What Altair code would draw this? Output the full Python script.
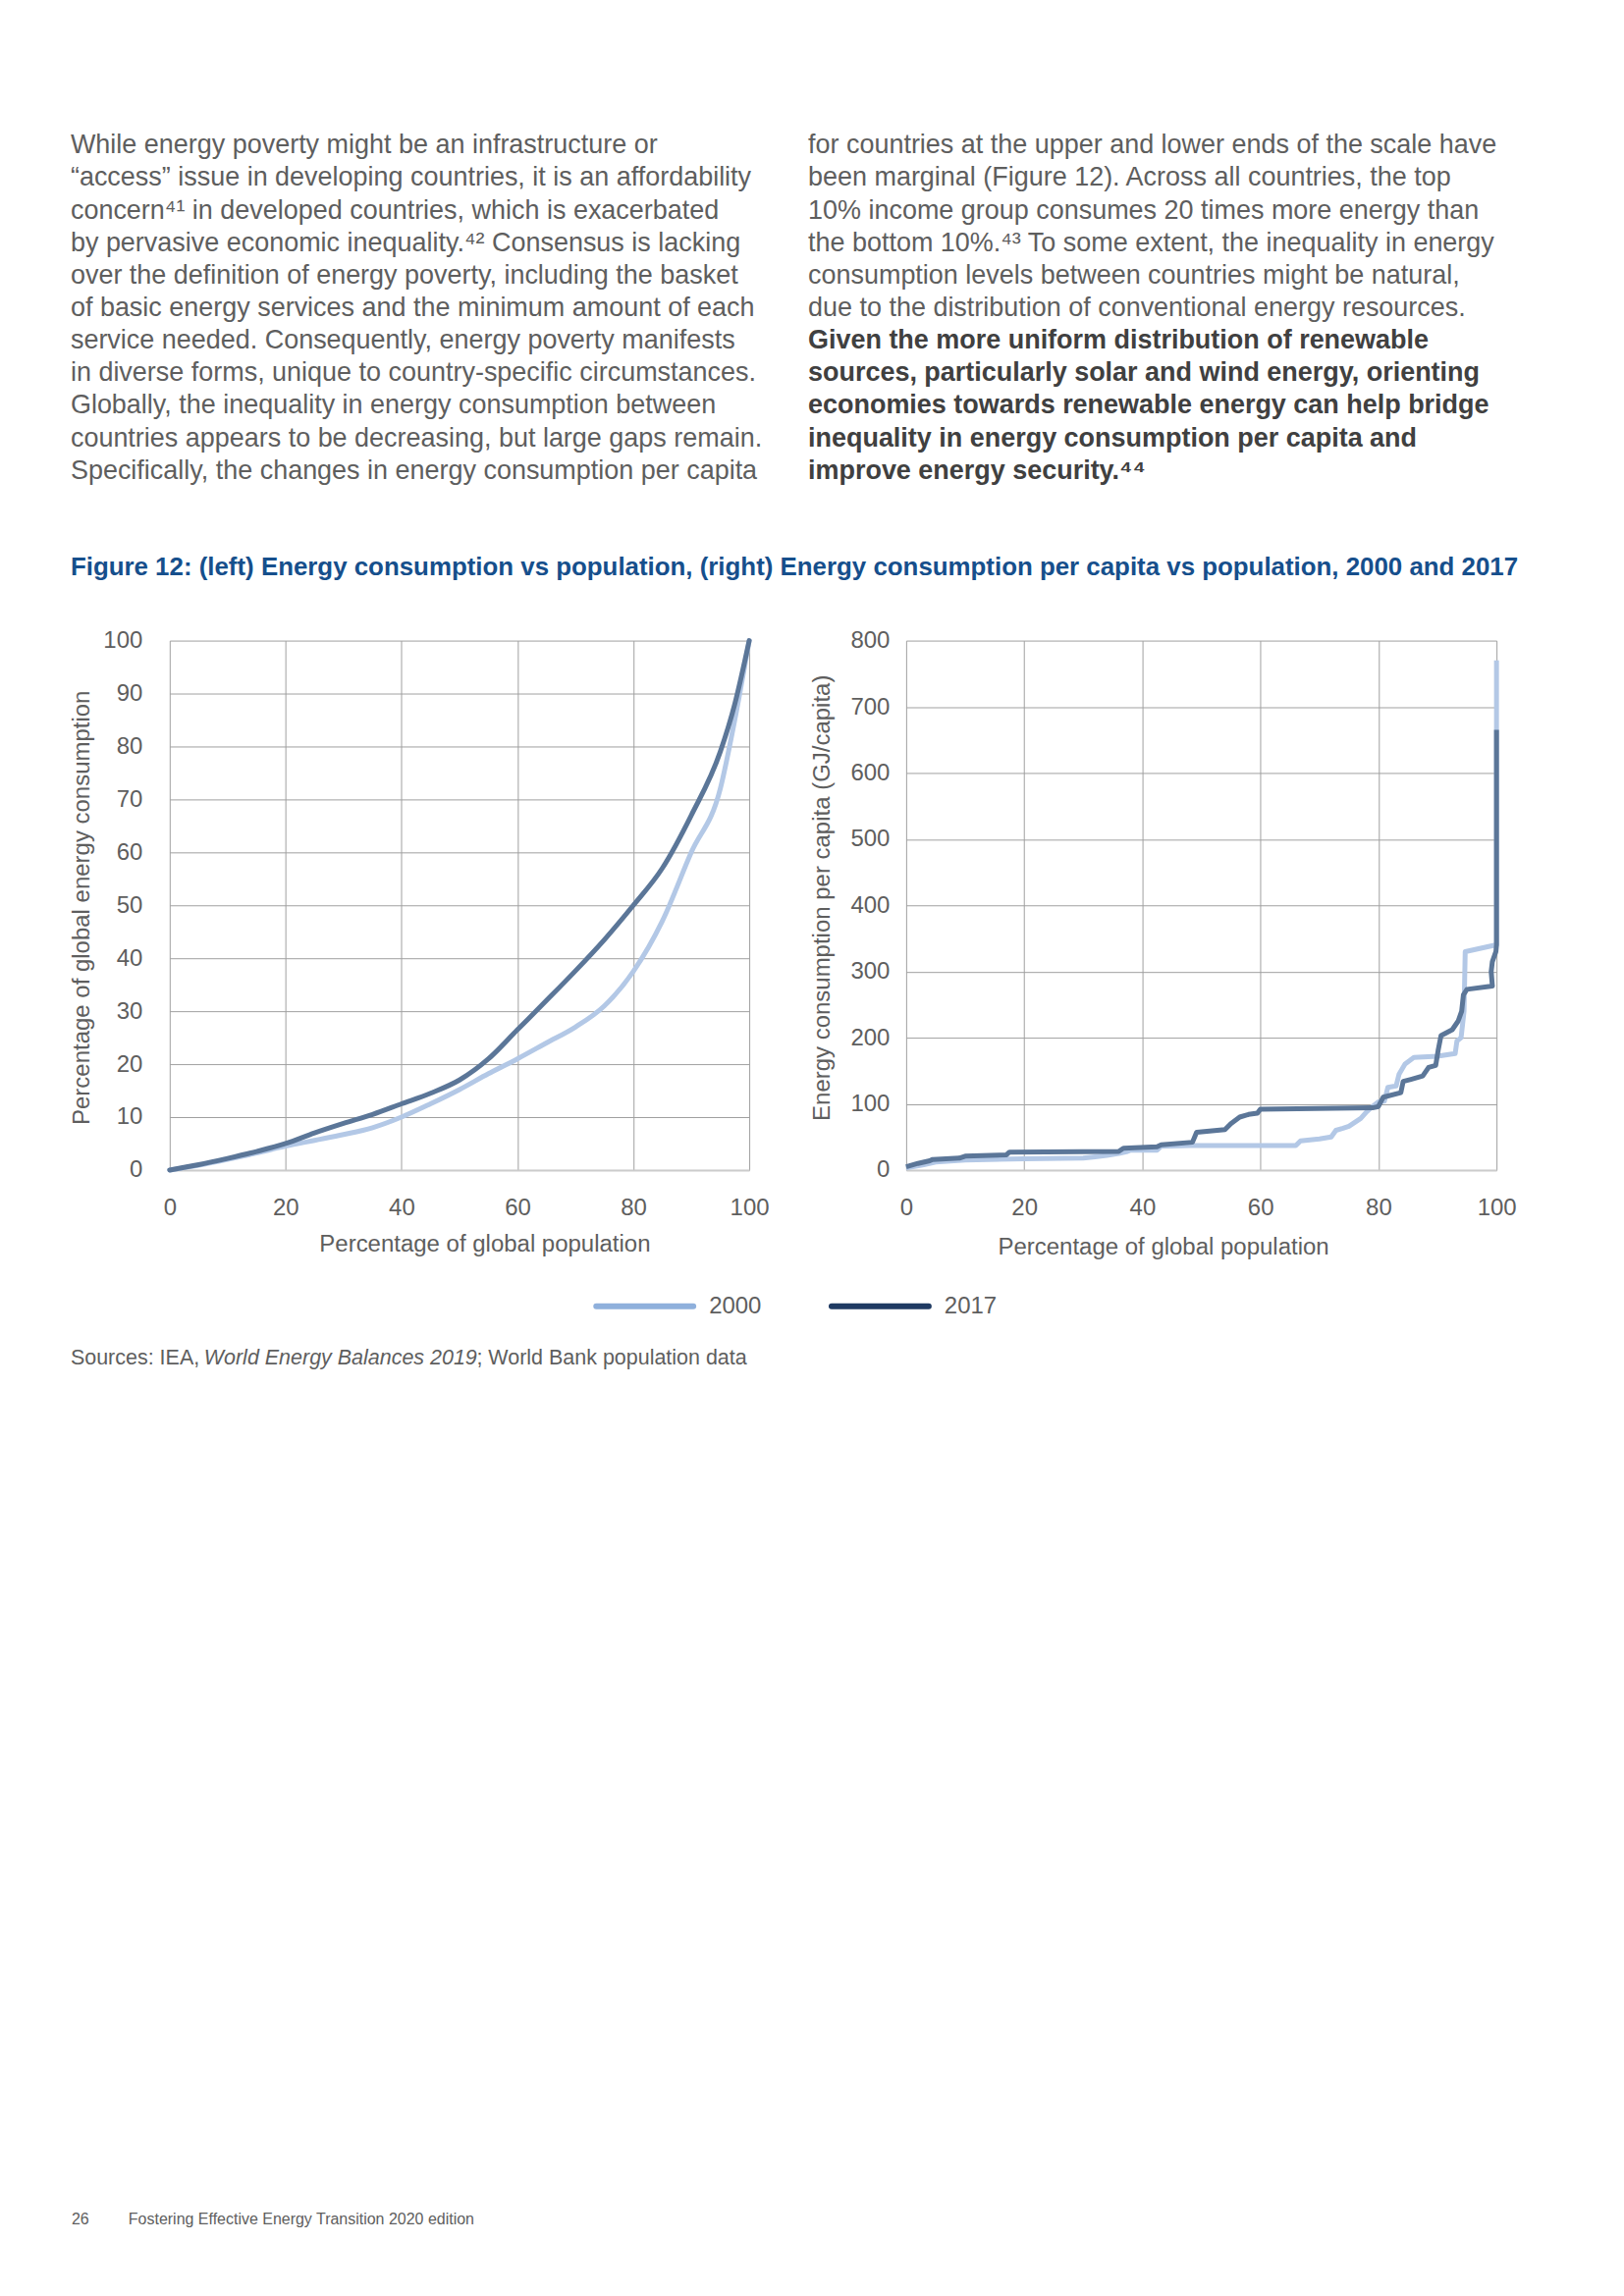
import altair as alt
import pandas as pd

# ---------------- data ----------------
lorenz_x = [0, 5, 10, 15, 20, 25, 30, 35, 40, 45, 50, 55, 60, 65, 70, 75, 80, 85, 90, 95, 97.5, 100]
lorenz_2017 = [0, 1.0, 2.2, 3.5, 5.0, 7.0, 8.8, 10.5, 12.5, 14.5, 17.0, 21.0, 26.5, 32.0, 37.6, 43.5, 50.0, 57.0, 67.0, 79.0, 88.0, 100]
lorenz_2000 = [0, 0.9, 2.0, 3.2, 4.5, 5.6, 6.7, 8.0, 10.0, 12.5, 15.2, 18.2, 21.0, 24.0, 27.0, 31.0, 37.5, 47.0, 60.0, 72.0, 85.0, 100]

pc_x_2017 = [0, 2, 4, 4.5, 9, 10, 17, 17.5, 36, 36.8, 42.5, 43.2, 48.5, 49.2, 54, 55, 56.5, 58, 59.5, 60, 79, 80,
             80.8, 83.8, 84.2, 85.5, 87.5, 88.5, 89.7, 90.1, 90.6, 92.5, 93.5, 94.1, 94.4, 95, 99.3, 99.1, 99.3, 99.9, 100, 100]
pc_y_2017 = [5, 10, 14, 16, 18, 21, 23, 27, 28, 33, 35, 38, 42, 57, 61, 70, 80, 84, 86, 92, 94, 96,
             110, 117, 134, 137, 142, 155, 158, 180, 203, 212, 225, 240, 265, 273, 278, 300, 315, 330, 340, 665]
pc_x_2000 = [0, 3, 5, 10, 20, 30, 32, 34, 36, 37.5, 38, 42.5, 43.2, 48, 50, 66, 66.8, 70, 72, 72.8, 74, 75, 76, 77, 78, 79,
             80, 81, 81.6, 83, 83.5, 84.5, 86, 90, 93, 93.3, 94, 94.5, 94.7, 99.8, 100, 100]
pc_y_2000 = [3, 8, 12, 15, 17, 18, 20, 22, 25, 28, 30, 30, 36, 37, 37, 37, 44, 47, 50, 60, 63, 66, 72, 78, 88, 96,
             103, 104, 125, 127, 145, 160, 170, 172, 176, 195, 200, 240, 330, 340, 340, 770]

x_ticks = [0, 20, 40, 60, 80, 100]
y_ticks_left = [0, 10, 20, 30, 40, 50, 60, 70, 80, 90, 100]
y_ticks_right = [0, 100, 200, 300, 400, 500, 600, 700, 800]
series_names = ["2000", "2017"]

para_left = [
    "While energy poverty might be an infrastructure or",
    "\u201caccess\u201d issue in developing countries, it is an affordability",
    "concern\u2074\u00b9 in developed countries, which is exacerbated",
    "by pervasive economic inequality.\u2074\u00b2 Consensus is lacking",
    "over the definition of energy poverty, including the basket",
    "of basic energy services and the minimum amount of each",
    "service needed. Consequently, energy poverty manifests",
    "in diverse forms, unique to country-specific circumstances.",
    "Globally, the inequality in energy consumption between",
    "countries appears to be decreasing, but large gaps remain.",
    "Specifically, the changes in energy consumption per capita",
]
para_right = [
    "for countries at the upper and lower ends of the scale have",
    "been marginal (Figure 12). Across all countries, the top",
    "10% income group consumes 20 times more energy than",
    "the bottom 10%.\u2074\u00b3 To some extent, the inequality in energy",
    "consumption levels between countries might be natural,",
    "due to the distribution of conventional energy resources.",
]
para_right_bold = [
    "Given the more uniform distribution of renewable",
    "sources, particularly solar and wind energy, orienting",
    "economies towards renewable energy can help bridge",
    "inequality in energy consumption per capita and",
    "improve energy security.\u2074\u2074",
]
fig_title = "Figure 12: (left) Energy consumption vs population, (right) Energy consumption per capita vs population, 2000 and 2017"
src_parts = ["Sources: IEA, ", "World Energy Balances 2019", "; World Bank population data"]
footer_num = "26"
footer_text = "Fostering Effective Energy Transition 2020 edition"

# ---------------- styles ----------------
FONT = "Liberation Sans"
TXT = "#5e5e5e"
AX = "#5e5e5e"
GRID = "#a0a0a0"
C2000 = "#b3c8e6"
C2017 = "#5b7698"
LEG2000 = "#8fb0dc"
LEG2017 = "#1f3a62"
OX, OY = 8, 8  # page margin


def page(x, y):
    return x - OX, y - OY


def txt_df(lines, x0, y0, dy):
    rows = []
    for i, t in enumerate(lines):
        px, py = page(x0, y0 + i * dy)
        rows.append({"text": t, "px": px, "py": py})
    return pd.DataFrame(rows)


def text_layer(df, size, color, weight="normal", style="normal", align="left", baseline="alphabetic"):
    return alt.Chart(df).mark_text(
        align=align, baseline=baseline, font=FONT, fontSize=size, color=color,
        fontWeight=weight, fontStyle=style
    ).encode(
        x=alt.X("px:Q", scale=None, axis=None),
        y=alt.Y("py:Q", scale=None, axis=None),
        text="text:N",
    )


LH = 33.2
BASE = 155
layers = []
# anchor (white) so the page origin is fixed
anc = pd.DataFrame({"px": [0], "py": [0], "px2": [3], "py2": [3]})
layers.append(alt.Chart(anc).mark_rect(color="white").encode(
    x=alt.X("px:Q", scale=None, axis=None), x2="px2:Q",
    y=alt.Y("py:Q", scale=None, axis=None), y2="py2:Q"))
layers.append(text_layer(txt_df(para_left, 70, BASE, LH), 27, TXT))
layers.append(text_layer(txt_df(para_right, 822, BASE, LH), 27, TXT))
layers.append(text_layer(txt_df(para_right_bold, 822, BASE + 6 * LH, LH), 27, "#404040", weight="bold"))
layers.append(text_layer(txt_df([fig_title], 70, 585, 0), 25.9, "#164f8c", weight="bold"))

# sources line (normal / italic / normal)
src_x = [70, 206, 484]
for part, sx, st in zip(src_parts, src_x, ["normal", "italic", "normal"]):
    layers.append(text_layer(txt_df([part], sx, 1390, 0), 21.5, TXT, style=st))

# footer
layers.append(text_layer(txt_df([footer_num], 71, 2267, 0), 16, TXT))
layers.append(text_layer(txt_df([footer_text], 129, 2267, 0), 16, TXT))

# legend
leg_x = [606, 846]
leg_rows = []
for name, lx in zip(series_names, leg_x):
    a, b = page(lx, 1331)
    leg_rows.append({"series": name, "x1": a, "x2": a + 99, "y": b, "lx": a + 115, "text": name})
leg_df = pd.DataFrame(leg_rows)
layers.append(alt.Chart(leg_df).mark_rule(strokeWidth=6, strokeCap="round").encode(
    x=alt.X("x1:Q", scale=None, axis=None), x2="x2:Q",
    y=alt.Y("y:Q", scale=None, axis=None),
    color=alt.Color("series:N", scale=alt.Scale(domain=series_names, range=[LEG2000, LEG2017]), legend=None)))
layers.append(alt.Chart(leg_df).mark_text(align="left", baseline="middle", font=FONT, fontSize=24, color=TXT).encode(
    x=alt.X("lx:Q", scale=None, axis=None), y=alt.Y("y:Q", scale=None, axis=None), text="text:N"))

text_panel = alt.layer(*layers).properties(width=1638, height=4)


def axis_x(title_x, title_y):
    return alt.Axis(values=x_ticks, grid=True, gridColor=GRID, gridWidth=1, domain=True, domainColor="#cbcbcb",
                    domainWidth=2, ticks=False, labelPadding=27, labelFontSize=24, labelColor=AX, labelFont=FONT,
                    labelFlush=False, labelOverlap=False, title="Percentage of global population",
                    titleFont=FONT, titleFontSize=24, titleFontWeight="normal", titleColor=AX,
                    titleX=title_x, titleY=title_y, titleBaseline="middle", titleAlign="center")


def axis_y(vals, title, pad, title_x, title_y):
    return alt.Axis(values=vals, grid=True, gridColor=GRID, gridWidth=1, domain=False, ticks=False,
                    labelPadding=pad, labelFontSize=24, labelColor=AX, labelFont=FONT, labelOverlap=False,
                    labelFlush=False, title=title, titleFont=FONT, titleFontSize=24, titleFontWeight="normal",
                    titleColor=AX, titleX=title_x, titleY=title_y, titleAngle=270, titleBaseline="middle",
                    titleAlign="center")


def line_df(xs, ys):
    return pd.DataFrame({"x": xs, "y": ys, "idx": list(range(len(xs)))})


# left panel
lx_ax = axis_x(321, 76)
ly_ax = axis_y(y_ticks_left, "Percentage of global energy consumption", 28, -89, 272)
l_enc = dict(
    x=alt.X("x:Q", scale=alt.Scale(domain=[0, 100], nice=False), axis=lx_ax),
    y=alt.Y("y:Q", scale=alt.Scale(domain=[0, 100], nice=False), axis=ly_ax),
    order="idx:Q",
)
left = alt.layer(
    alt.Chart(line_df(lorenz_x, lorenz_2000)).mark_line(color=C2000, strokeWidth=5, interpolate="monotone",
                                                         strokeCap="round").encode(**l_enc),
    alt.Chart(line_df(lorenz_x, lorenz_2017)).mark_line(color=C2017, strokeWidth=5, interpolate="monotone",
                                                         strokeCap="round").encode(**l_enc),
).properties(width=591, height=540)

# right panel
rx_ax = axis_x(262, 79)
ry_ax = axis_y(y_ticks_right, "Energy consumption per capita (GJ/capita)", 17, -85, 262)
r_enc = dict(
    x=alt.X("x:Q", scale=alt.Scale(domain=[0, 100], nice=False), axis=rx_ax),
    y=alt.Y("y:Q", scale=alt.Scale(domain=[0, 800], nice=False), axis=ry_ax),
    order="idx:Q",
)
right = alt.layer(
    alt.Chart(line_df(pc_x_2000, pc_y_2000)).mark_line(color=C2000, strokeWidth=5, strokeJoin="round").encode(**r_enc),
    alt.Chart(line_df(pc_x_2017, pc_y_2017)).mark_line(color=C2017, strokeWidth=5, strokeJoin="round").encode(**r_enc),
).properties(width=602, height=540)

spacer = alt.Chart(pd.DataFrame({"a": [0]})).mark_point(opacity=0).encode(
    x=alt.X("a:Q", axis=None), y=alt.Y("a:Q", axis=None)).properties(width=3, height=540)

plots = alt.hconcat(spacer, left, right, spacing=160, bounds="flush")

chart = alt.vconcat(text_panel, plots, spacing=640, bounds="flush").properties(
    padding=0, background="white"
).configure_view(stroke=None)

chart.save("out.html", embed_options={"renderer": "svg", "actions": False})
